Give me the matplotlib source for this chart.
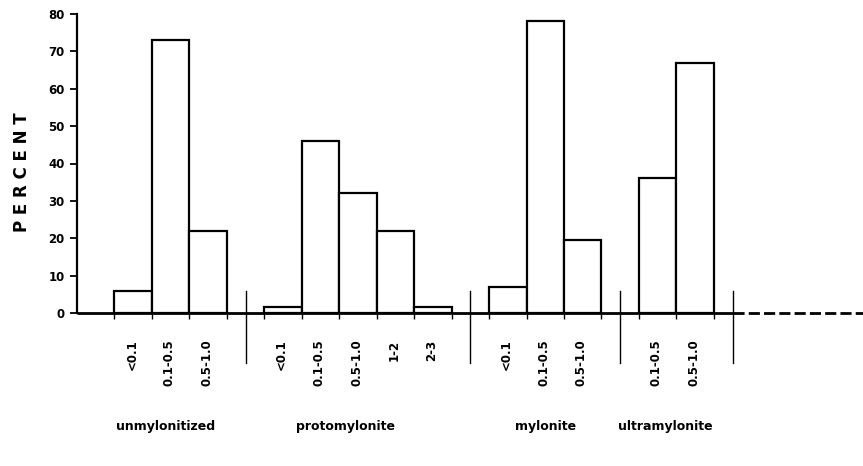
import matplotlib
matplotlib.use("Agg")
import matplotlib.pyplot as plt

# ---- data ----
groups = ["unmylonitized", "protomylonite", "mylonite", "ultramylonite"]
bins_unmyl = ["<0.1", "0.1-0.5", "0.5-1.0"]
vals_unmyl = [6, 73, 22]
bins_proto = ["<0.1", "0.1-0.5", "0.5-1.0", "1-2", "2-3"]
vals_proto = [1.5, 46, 32, 22, 1.5]
bins_myl = ["<0.1", "0.1-0.5", "0.5-1.0"]
vals_myl = [7, 78, 19.5]
bins_ultra = ["0.1-0.5", "0.5-1.0"]
vals_ultra = [36, 67]
yticks = [0, 10, 20, 30, 40, 50, 60, 70, 80]

group_bins = [bins_unmyl, bins_proto, bins_myl, bins_ultra]
group_vals = [vals_unmyl, vals_proto, vals_myl, vals_ultra]

# layout: horizontal nudge (points) of the group names
name_nudge = [-4, -9, 0, -8]

fig = plt.figure(figsize=(8.63, 4.66), dpi=100)
ax = fig.add_axes([77 / 863, 153 / 466, (863 - 77) / 863, 299 / 466])

bold = dict(fontweight="bold", family="DejaVu Sans")

start = 1.0
edges = []
seps = []
for gname, bins, vals, nud in zip(groups, group_bins, group_vals, name_nudge):
    n = len(vals)
    xs = [start + i for i in range(n)]
    ax.bar(xs, vals, width=1.0, align="edge", facecolor="white",
           edgecolor="black", linewidth=1.6, zorder=3)
    edges.extend(xs + [start + n])
    for x, lab in zip(xs, bins):
        ax.annotate(lab, xy=(x + 0.5, 0), xycoords="data",
                    xytext=(-1, -19), textcoords="offset points",
                    rotation=90, ha="center", va="top", fontsize=8.5, **bold)
    center = start + n / 2.0
    ax.annotate(gname, xy=(center, 0), xycoords="data",
                xytext=(nud, -82), textcoords="offset points",
                ha="center", va="center", fontsize=9, **bold)
    end = start + n
    seps.append(end + 0.5)
    start = end + 1.0

# separators
for s in seps:
    ax.plot([s, s], [6, -13.5], color="black", lw=1.0, clip_on=False, zorder=4)

xmax = (863 - 77) / 37.46
# baseline: solid then dashed
ax.plot([0, seps[-1]], [0, 0], color="black", lw=2.0, clip_on=False, zorder=5,
        solid_capstyle="butt")
ax.plot([seps[-1], xmax], [0, 0], color="black", lw=2.0, clip_on=False,
        linestyle=(0, (4, 1.5)), zorder=5)

ax.set_xlim(0, xmax)
ax.set_ylim(0, 80)
ax.set_xticks(sorted(set(edges)))
ax.set_xticklabels([])
ax.tick_params(axis="x", length=4, width=1.0, direction="out")
ax.set_yticks(yticks)
ax.set_yticklabels([str(t) for t in yticks], fontsize=8.5, **bold)
ax.tick_params(axis="y", length=5, width=1.3, direction="out", pad=4)

for sp in ["top", "right", "bottom"]:
    ax.spines[sp].set_visible(False)
ax.spines["left"].set_linewidth(1.6)

ax.set_ylabel("P E R C E N T", fontsize=12, **bold)
ax.yaxis.set_label_coords(-0.058, 0.47)

fig.savefig("out.png", dpi=100)
